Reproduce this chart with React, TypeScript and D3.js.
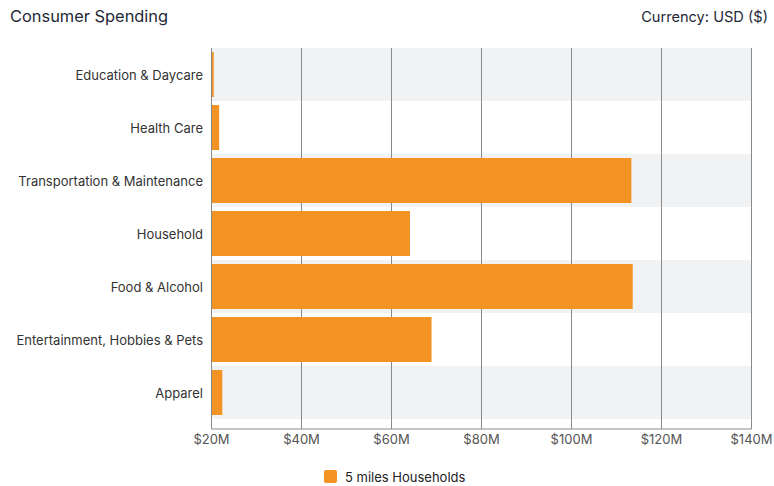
import React from "react";
import * as d3 from "d3";

const categories = [
  "Education & Daycare",
  "Health Care",
  "Transportation & Maintenance",
  "Household",
  "Food & Alcohol",
  "Entertainment, Hobbies & Pets",
  "Apparel",
];
const values = [20.5, 21.7, 113.3, 64.1, 113.6, 68.9, 22.4];
const xTicks = [20, 40, 60, 80, 100, 120, 140];
const seriesName = "5 miles Households";

const W = 774;
const H = 486;
const left = 211.5;
const right = 751.5;
const top = 48;
const bandBottom = 419;
const axisY = 429;
const FONT = "Inter, 'Noto Sans', sans-serif";

export default function App() {
  const x = d3.scaleLinear().domain([20, 140]).range([left, right]);
  const y = d3
    .scaleBand<string>()
    .domain(categories)
    .range([top, bandBottom])
    .paddingInner(0)
    .paddingOuter(0);
  const bw = y.bandwidth();
  const inset = 4;

  return (
    <svg
      width={W}
      height={H}
      style={{ position: "absolute", left: 0, top: 0, background: "#fff" }}
      fontFamily={FONT}
    >
      <text x={10} y={22} fontSize={16.4} fill="#1f2937">
        Consumer Spending
      </text>
      <text x={768} y={22} fontSize={14.6} fill="#1f2937" textAnchor="end">
        Currency: USD ($)
      </text>

      {categories.map((c, i) =>
        i % 2 === 0 ? (
          <rect
            key={"bg" + c}
            x={left}
            y={y(c)!}
            width={right - left}
            height={bw}
            fill="#f1f2f4"
          />
        ) : null
      )}

      {xTicks.map((t) => (
        <line
          key={"g" + t}
          x1={x(t)}
          x2={x(t)}
          y1={top}
          y2={axisY}
          stroke="#8a8a8a"
          strokeWidth={1}
        />
      ))}

      {categories.map((c, i) => (
        <rect
          key={"b" + c}
          x={x(20)}
          y={y(c)! + inset}
          width={x(values[i]) - x(20)}
          height={bw - inset * 2}
          fill="#f39323"
        />
      ))}

      <line x1={left} x2={right} y1={axisY} y2={axisY} stroke="#8a8a8a" strokeWidth={1} />
      <line x1={left} x2={left} y1={top} y2={axisY} stroke="#8a8a8a" strokeWidth={1} />

      {categories.map((c) => (
        <text
          key={"l" + c}
          x={203}
          y={y(c)! + bw / 2 + 1}
          dy="0.35em"
          fontSize={13}
          fill="#333"
          textAnchor="end"
        >
          {c}
        </text>
      ))}

      {xTicks.map((t) => (
        <text
          key={"t" + t}
          x={x(t)}
          y={444}
          fontSize={13}
          fill="#555"
          textAnchor="middle"
        >
          {"$" + t + "M"}
        </text>
      ))}

      <rect x={324} y={470} width={13} height={13} rx={2} fill="#f39323" />
      <text x={345} y={477} dy="0.35em" fontSize={13} fill="#222">
        {seriesName}
      </text>
    </svg>
  );
}
